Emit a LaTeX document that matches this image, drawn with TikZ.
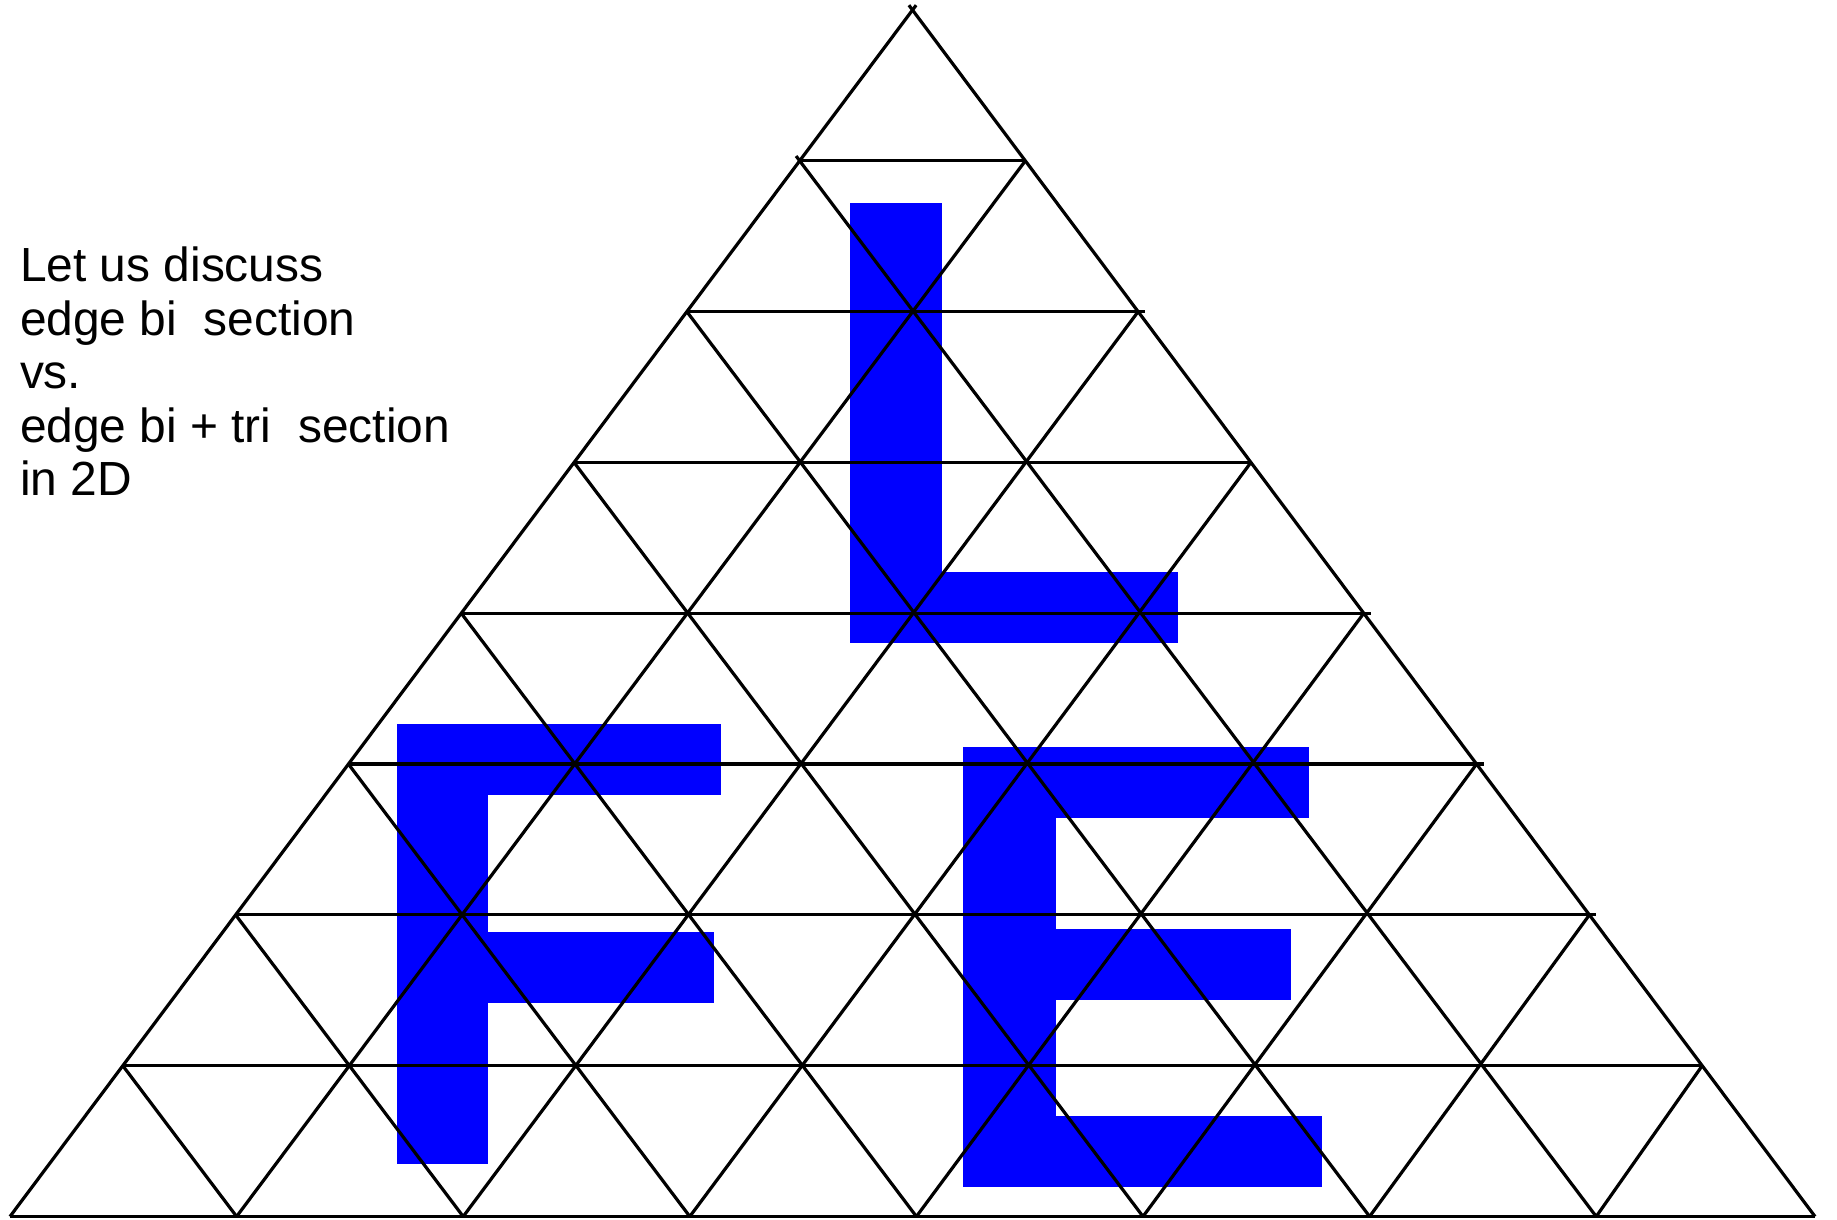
\documentclass[tikz,border=0pt]{standalone}
\usepackage{fontspec}
\setmainfont{Liberation Sans}
\begin{document}
\begin{tikzpicture}[x=1pt,y=-1pt,
  gridline/.style={line width=3.2pt, black, line cap=butt},
  letter/.style={fill=blue},
  txt/.style={anchor=base west, inner sep=0pt, font=\fontsize{47.9pt}{53.5pt}\selectfont}]
\useasboundingbox (0,0) rectangle (1837,1219);
% letters
% L
\fill[letter] (850,202.5) rectangle (942,642.5);
\fill[letter] (850,571.7) rectangle (1178,642.5);
% F
\fill[letter] (396.7,724.3) rectangle (488.3,1164.3);
\fill[letter] (396.7,724.3) rectangle (720.7,795);
\fill[letter] (396.7,932.3) rectangle (714,1002.7);
% E
\fill[letter] (963.3,746.5) rectangle (1055.7,1186.7);
\fill[letter] (963.3,746.5) rectangle (1309,818);
\fill[letter] (963.3,929) rectangle (1290.7,1000);
\fill[letter] (963.3,1116) rectangle (1322.3,1186.7);
% grid
\def\dx{112.8125}
\def\dy{150.8125}
\def\bs{226.6}
\foreach \a in {1,3,7,8}
  \draw[gridline] ({912.5-\a*\dx},{10+\a*\dy}) -- ({912.5+\a*\dx},{10+\a*\dy});
\foreach \a in {2,4,5,6}
  \draw[gridline, shorten >=-7pt] ({912.5-\a*\dx},{10+\a*\dy}) -- ({912.5+\a*\dx},{10+\a*\dy});
% lines parallel to the left side
\draw[gridline, shorten <=-6pt] (912.5,10) -- (10,1216.5);
\foreach \b in {1,...,7}
  \draw[gridline] ({912.5+\b*\dx},{10+\b*\dy}) -- ({10+\b*\bs},1216.5);
% lines parallel to the right side
\draw[gridline, shorten <=-6pt] (912.5,10) -- (1815,1216.5);
\draw[gridline, shorten <=-6pt] ({912.5-\dx},{10+\dy}) -- ({10+7*\bs},1216.5);
\foreach \c in {2,...,7}
  \draw[gridline] ({912.5-\c*\dx},{10+\c*\dy}) -- ({10+(8-\c)*\bs},1216.5);
% text
\node[txt] (t1) at (19.8,281.7) {Let us discuss};
\node[txt] (t2) at (19.8,335.2) {edge bi\ \ section};
\node[txt] (t3) at (19.8,388.7) {vs.};
\node[txt] (t4) at (19.8,442.2) {edge bi + tri\ \ section};
\node[txt] (t5) at (19.8,495.7) {in 2D};
\end{tikzpicture}
\end{document}
